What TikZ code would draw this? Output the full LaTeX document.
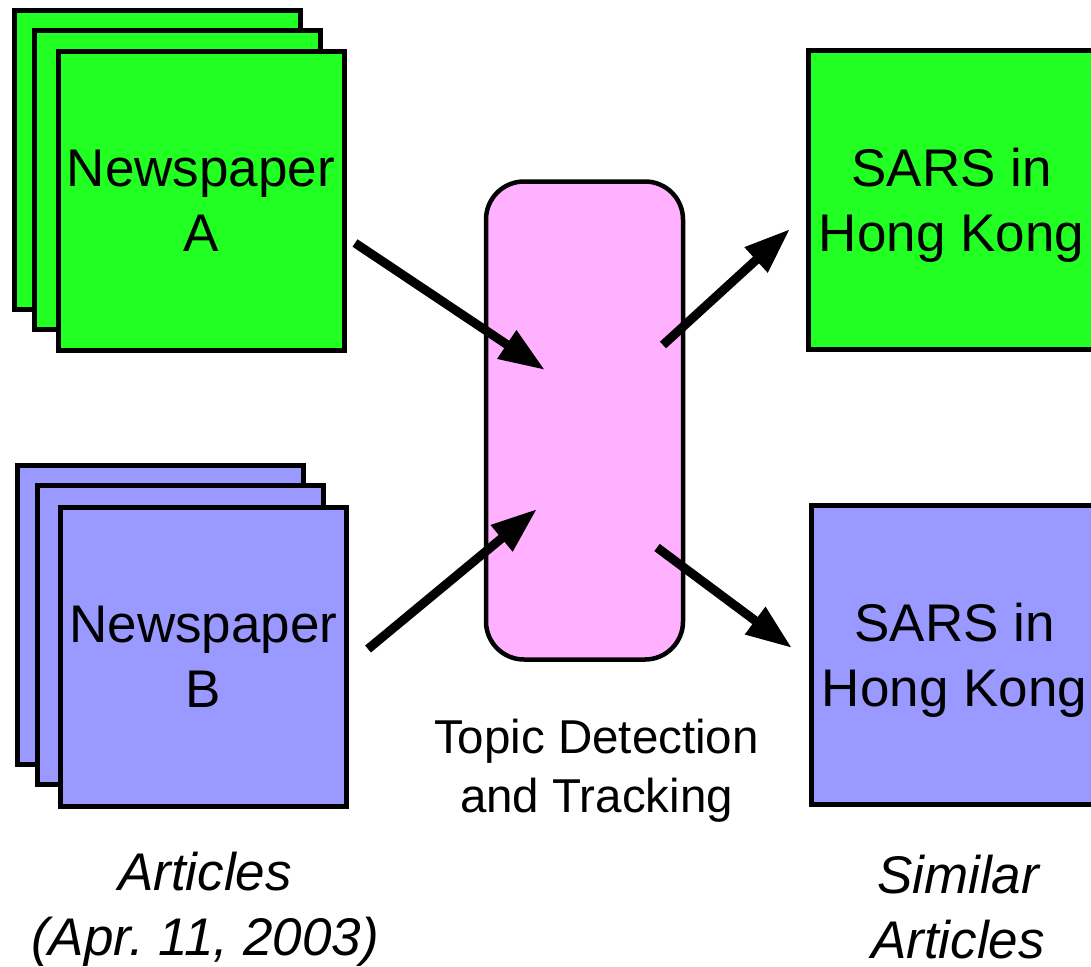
\documentclass[tikz,border=0pt]{standalone}
\usepackage{fontspec}
\setmainfont{Liberation Sans}
\usetikzlibrary{arrows.meta}
\definecolor{papergreen}{RGB}{34,255,34}
\definecolor{paperblue}{RGB}{153,153,255}
\definecolor{tdtpink}{RGB}{255,176,255}
\frenchspacing

\begin{document}
\begin{tikzpicture}[x=1pt,y=-1pt,
  page/.style={draw=black, line width=5pt, minimum width=286pt,
    minimum height=299pt, inner sep=0pt, align=center, text depth=0pt,
    font=\fontsize{53}{65}\selectfont},
  greenpage/.style={page, fill=papergreen},
  bluepage/.style={page, fill=paperblue},
  engine/.style={draw=black, line width=4.5pt, fill=tdtpink,
    rounded corners=38pt, minimum width=197pt, minimum height=478pt,
    inner sep=0pt},
  caption/.style={align=center, inner sep=0pt, text depth=0pt,
    font=\fontsize{47.5}{59}\selectfont},
  note/.style={align=center, inner sep=0pt, text depth=0pt,
    font=\fontsize{53}{65}\selectfont\itshape},
  flow/.style={line width=9pt, -{Triangle[length=46pt,width=32pt]}}
]
\useasboundingbox (0,0) rectangle (1091,966);

% stack of articles from newspaper A
\node[greenpage] (a3) at (157.5,159.75) {};
\node[greenpage] (a2) at (177.5,180.25) {};
\node[greenpage] (a1) at (201,200.75) {Newspaper\\A};

% stack of articles from newspaper B
\node[bluepage] (b3) at (160.5,615.25) {};
\node[bluepage] (b2) at (180,634.75) {};
\node[bluepage] (b1) at (203.5,657) {Newspaper\\B};

% topic detection and tracking engine
\node[engine] (tdt) at (584.5,420.5) {};
\node[caption] (tdtlabel) at (596.5,765.5) {Topic Detection\\and Tracking};

% resulting similar articles
\node[greenpage] (sa) at (951.5,200) {SARS in\\Hong Kong};
\node[bluepage] (sb) at (954.5,654.5) {SARS in\\Hong Kong};

% captions
\node[note] (articles) at (205,903.5) {Articles\\(Apr. 11, 2003)};
\node[note] (similar) at (958,906.5) {Similar\\Articles};

% arrow end points
\coordinate (inAs) at (355,243);
\coordinate (inAe) at (545,370);
\coordinate (inBs) at (368,649);
\coordinate (inBe) at (537,509);
\coordinate (outAs) at (663,345);
\coordinate (outAe) at (790,229);
\coordinate (outBs) at (657,547.5);
\coordinate (outBe) at (792,648);

\draw[flow] (inAs) -- (inAe);
\draw[flow] (inBs) -- (inBe);
\draw[flow] (outAs) -- (outAe);
\draw[flow] (outBs) -- (outBe);
\end{tikzpicture}
\end{document}
